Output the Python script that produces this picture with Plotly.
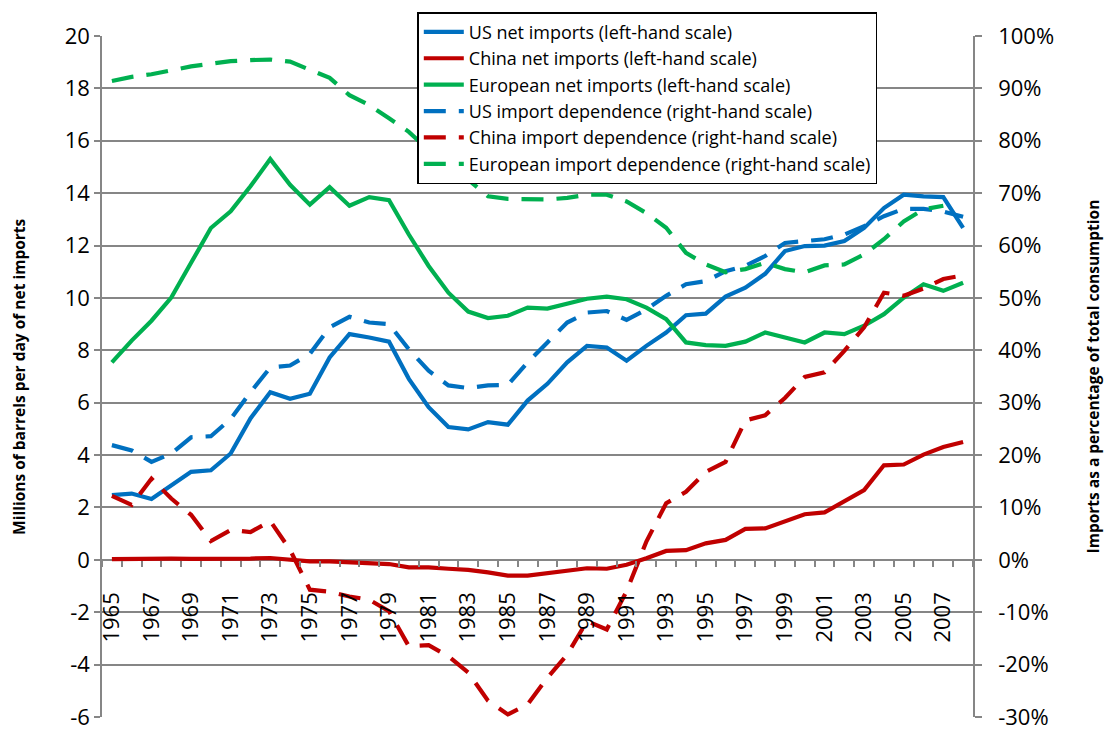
import plotly.graph_objects as go

years = list(range(1965, 2009))

us_net = [2.47, 2.53, 2.32, 2.85, 3.36, 3.42, 4.06, 5.4, 6.4, 6.15, 6.34, 7.73, 8.62, 8.49, 8.33,
          6.91, 5.83, 5.07, 4.98, 5.26, 5.16, 6.08, 6.72, 7.54, 8.17, 8.11, 7.6, 8.17, 8.68, 9.34,
          9.4, 10.05, 10.39, 10.92, 11.79, 11.98, 12.0, 12.17, 12.67, 13.43, 13.94, 13.88, 13.85, 12.67]

china_net = [0.03, 0.04, 0.06, 0.05, 0.04, 0.03, 0.05, 0.05, 0.07, 0.0, -0.06, -0.06, -0.09, -0.13, -0.16,
             -0.29, -0.29, -0.34, -0.38, -0.48, -0.6, -0.6, -0.51, -0.42, -0.32, -0.34, -0.19, 0.06, 0.34, 0.37,
             0.63, 0.76, 1.18, 1.2, 1.46, 1.74, 1.81, 2.22, 2.66, 3.61, 3.64, 4.02, 4.31, 4.5]

europe_net = [7.54, 8.37, 9.13, 10.01, 11.34, 12.67, 13.31, 14.26, 15.3, 14.32, 13.56, 14.23, 13.52, 13.85, 13.73,
              12.42, 11.22, 10.2, 9.48, 9.23, 9.32, 9.63, 9.59, 9.76, 9.97, 10.05, 9.95, 9.63, 9.19, 8.3,
              8.2, 8.17, 8.33, 8.68, 8.49, 8.3, 8.68, 8.62, 8.94, 9.38, 10.01, 10.52, 10.27, 10.58]

us_dep = [21.9, 20.9, 18.7, 20.3, 23.4, 23.6, 26.9, 32.0, 36.7, 37.1, 39.3, 44.4, 46.4, 45.3, 45.0,
          40.2, 36.1, 33.3, 32.8, 33.3, 33.4, 37.7, 41.5, 45.3, 47.2, 47.5, 45.8, 47.8, 50.4, 52.6,
          53.2, 55.1, 56.1, 58.0, 60.5, 60.8, 61.2, 62.1, 63.7, 65.6, 67.0, 67.0, 66.5, 65.5]

china_dep = [12.2, 10.5, 15.5, 11.7, 8.6, 3.6, 5.7, 5.3, 7.4, 1.9, -5.7, -6.1, -7.0, -7.6, -9.8,
             -16.5, -16.3, -18.4, -21.5, -26.9, -29.5, -27.6, -22.5, -18.1, -11.7, -13.3, -6.0, 3.5, 10.8, 13.0,
             16.8, 18.7, 26.6, 27.6, 30.9, 34.9, 35.8, 39.9, 44.4, 51.0, 50.4, 51.8, 53.6, 54.3]

europe_dep = [91.4, 92.2, 92.7, 93.5, 94.2, 94.7, 95.2, 95.4, 95.5, 95.1, 93.5, 92.0, 88.7, 86.8, 84.3,
              81.7, 78.2, 75.0, 72.6, 69.4, 68.9, 68.9, 68.8, 69.1, 69.7, 69.7, 68.4, 66.2, 63.4, 58.6,
              56.4, 54.9, 55.5, 56.7, 55.5, 54.9, 56.2, 56.4, 58.3, 61.2, 64.6, 66.9, 67.6, None]

label_years = list(range(1965, 2008, 2))
left_ticks = list(range(-6, 21, 2))
right_ticks = list(range(-30, 101, 10))

BLUE = "#0070C0"
RED = "#C00000"
GREEN = "#00B050"
GRID = "#868686"
FONT = "Open Sans"
DASH = "22px,13px"
LW = 4.2

fig = go.Figure()
fig.add_trace(go.Scatter(x=years, y=us_net, mode="lines", name="US net imports (left-hand scale)",
                         line=dict(color=BLUE, width=LW)))
fig.add_trace(go.Scatter(x=years, y=china_net, mode="lines", name="China net imports (left-hand scale)",
                         line=dict(color=RED, width=LW)))
fig.add_trace(go.Scatter(x=years, y=europe_net, mode="lines", name="European net imports (left-hand scale)",
                         line=dict(color=GREEN, width=LW)))
fig.add_trace(go.Scatter(x=years, y=us_dep, mode="lines", name="US import dependence (right-hand scale)",
                         line=dict(color=BLUE, width=LW, dash=DASH), yaxis="y2"))
fig.add_trace(go.Scatter(x=years, y=china_dep, mode="lines", name="China import dependence (right-hand scale)",
                         line=dict(color=RED, width=LW, dash=DASH), yaxis="y2"))
fig.add_trace(go.Scatter(x=years, y=europe_dep, mode="lines", name="European import dependence (right-hand scale)",
                         line=dict(color=GREEN, width=LW, dash=DASH), yaxis="y2", connectgaps=False))

fig.update_layout(
    width=1112, height=732,
    margin=dict(l=102, r=139, t=36, b=15, autoexpand=False),
    paper_bgcolor="white", plot_bgcolor="white",
    font=dict(family=FONT, color="black"),
    showlegend=True,
    legend=dict(x=0.362, y=1.035, xanchor="left", yanchor="top",
                bgcolor="white", bordercolor="black", borderwidth=1.5,
                font=dict(size=18, family=FONT), tracegroupgap=0, itemwidth=40),
    xaxis=dict(
        range=[1964.5, 2008.5], anchor="free", position=6 / 26, automargin=False,
        tickmode="array", tickvals=label_years, ticktext=[str(y) for y in label_years],
        tickangle=-90, ticks="", ticklabelstandoff=27,
        tickfont=dict(size=22, family=FONT),
        showgrid=False, zeroline=False, showline=False,
        minor=dict(tickmode="linear", tick0=1964.5, dtick=1, ticks="outside", ticklen=6,
                   tickcolor=GRID, tickwidth=1.5, showgrid=False),
    ),
    yaxis=dict(
        range=[-6, 20], tickmode="array", tickvals=left_ticks,
        ticktext=[str(v) for v in left_ticks], automargin=False,
        showgrid=True, gridcolor=GRID, gridwidth=1.5,
        zeroline=True, zerolinecolor=GRID, zerolinewidth=1.5,
        showline=True, linecolor=GRID, linewidth=1.5,
        ticks="outside", ticklen=6, tickcolor=GRID, tickwidth=1.5,
        tickfont=dict(size=22, family=FONT), ticklabeloverflow="allow",
    ),
    yaxis2=dict(
        range=[-30, 100], tickmode="array", tickvals=right_ticks,
        ticktext=[f"{v}%" for v in right_ticks], automargin=False,
        overlaying="y", side="right",
        showgrid=False, zeroline=False, showline=True, linecolor=GRID, linewidth=1.5,
        ticks="outside", ticklen=7, tickcolor=GRID, tickwidth=1.5,
        tickfont=dict(size=22, family=FONT), ticklabelstandoff=12, ticklabeloverflow="allow",
    ),
    annotations=[
        dict(text="<b>Millions of barrels per day of net imports</b>", xref="paper", yref="paper",
             x=-0.096, y=0.5, xanchor="center", yanchor="middle", textangle=-90,
             showarrow=False, font=dict(size=15.5, family=FONT)),
        dict(text="<b>Imports as a percentage of total consumption</b>", xref="paper", yref="paper",
             x=1.1377, y=0.5, xanchor="center", yanchor="middle", textangle=-90,
             showarrow=False, font=dict(size=15.5, family=FONT)),
    ],
)

fig.write_html("out.html")
